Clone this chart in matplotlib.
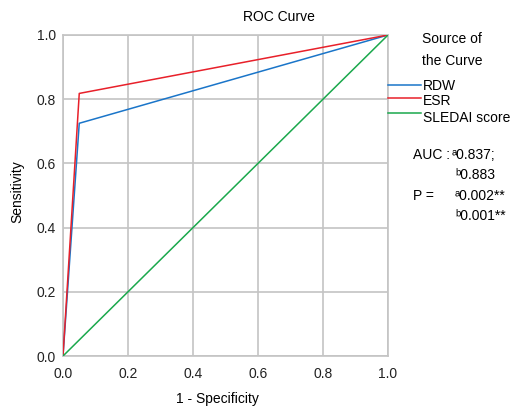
import matplotlib
matplotlib.use("Agg")
import matplotlib.pyplot as plt
from matplotlib.lines import Line2D

plt.rcParams['font.family'] = ['Liberation Sans', 'DejaVu Sans']

# ROC points (1 - specificity, sensitivity)
rdw_fpr = [0.0, 0.05, 1.0]
rdw_tpr = [0.0, 0.725, 1.0]
esr_fpr = [0.0, 0.05, 1.0]
esr_tpr = [0.0, 0.818, 1.0]
sledai_fpr = [0.0, 1.0]
sledai_tpr = [0.0, 1.0]

series = ['RDW', 'ESR', 'SLEDAI score']
colors = ['#1a75c9', '#e8202a', '#1aa84c']
ticks = [0.0, 0.2, 0.4, 0.6, 0.8, 1.0]

W, H = 513, 408
fig = plt.figure(figsize=(W / 100, H / 100), dpi=100)
ax = fig.add_axes([63 / W, 1 - 356 / H, (388 - 63) / W, (356 - 35) / H])

ax.plot(rdw_fpr, rdw_tpr, color=colors[0], lw=1.1, zorder=3)
ax.plot(esr_fpr, esr_tpr, color=colors[1], lw=1.1, zorder=3)
ax.plot(sledai_fpr, sledai_tpr, color=colors[2], lw=1.1, zorder=3)

ax.set_xlim(0, 1)
ax.set_ylim(0, 1)
ax.set_xticks(ticks)
ax.set_yticks(ticks)
ax.set_xticklabels([f'{t:.1f}' for t in ticks])
ax.set_yticklabels([f'{t:.1f}' for t in ticks])
ax.tick_params(length=0, labelsize=10, colors='#222222')
ax.tick_params(axis='x', pad=8)
ax.tick_params(axis='y', pad=5)
ax.grid(True, color='#c4c4c4', lw=1.2)
for s in ax.spines.values():
    s.set_color('#c4c4c4')
    s.set_linewidth(1.2)
ax.set_axisbelow(True)

# axis titles
fig.text(217 / W, 1 - 399 / H, '1 - Specificity', ha='center', va='center', fontsize=10)
fig.text(17 / W, 1 - 192 / H, 'Sensitivity', ha='center', va='center',
         rotation=90, fontsize=10)
fig.text(279 / W, 1 - 17 / H, 'ROC Curve', ha='center', va='center', fontsize=10)

# legend
fig.text(422 / W, 1 - 39 / H, 'Source of', ha='left', va='center', fontsize=10)
fig.text(422 / W, 1 - 61 / H, 'the Curve', ha='left', va='center', fontsize=10)
line_y = [85, 98, 113]
text_y = [86, 101, 118]
for name, c, ly, ty in zip(series, colors, line_y, text_y):
    fig.add_artist(Line2D([388 / W, 421 / W], [1 - ly / H, 1 - ly / H],
                          color=c, lw=1.1, transform=fig.transFigure))
    fig.text(423 / W, 1 - ty / H, name, ha='left', va='center', fontsize=10)

# AUC / P annotation
fig.text(413 / W, 1 - 155 / H, 'AUC :', ha='left', va='center', fontsize=10)
fig.text(452 / W, 1 - 155 / H, 'ᵃ0.837;', ha='left', va='center', fontsize=10)
fig.text(455 / W, 1 - 175 / H, 'ᵇ0.883', ha='left', va='center', fontsize=10)
fig.text(413 / W, 1 - 196 / H, 'P =', ha='left', va='center', fontsize=10)
fig.text(455 / W, 1 - 196 / H, 'ᵃ0.002**', ha='left', va='center', fontsize=10)
fig.text(455 / W, 1 - 216 / H, 'ᵇ0.001**', ha='left', va='center', fontsize=10)

fig.savefig('out.png', dpi=100, facecolor='white')
